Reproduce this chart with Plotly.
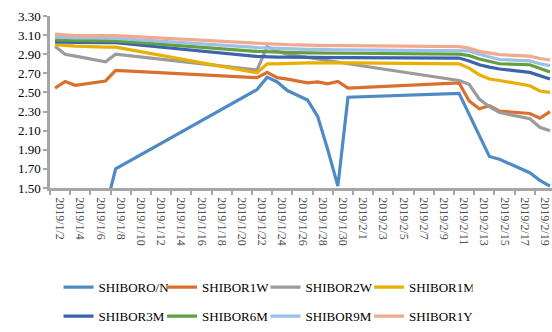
import plotly.graph_objects as go

# Trading-day offsets (days from the first date shown on the axis)
day_index = [0, 1, 2, 5, 6, 20, 21, 22, 23, 25, 26, 27, 28, 29,
             40, 41, 42, 43, 44, 47, 48, 49]

series_names = ["SHIBORO/N", "SHIBOR1W", "SHIBOR2W", "SHIBOR1M",
                "SHIBOR3M", "SHIBOR6M", "SHIBOR9M", "SHIBOR1Y"]

shibor_on = [None, None, None, 1.28, 1.70, 2.53, 2.66, 2.61, 2.52, 2.42, 2.25,
             1.90, 1.52, 2.45, 2.49, 2.27, 2.05, 1.83, 1.80, 1.66, 1.58, 1.52]
shibor_1w = [2.545, 2.615, 2.575, 2.62, 2.73, 2.655, 2.71, 2.655, 2.64, 2.60, 2.61,
             2.59, 2.615, 2.545, 2.60, 2.41, 2.33, 2.36, 2.305, 2.28, 2.23, 2.30]
shibor_2w = [2.98, 2.90, 2.88, 2.82, 2.90, 2.735, 2.98, 2.93, 2.90, 2.865, 2.85,
             2.83, 2.815, 2.80, 2.625, 2.585, 2.43, 2.35, 2.29, 2.225, 2.135, 2.10]
shibor_1m = [3.00, 2.99, 2.985, 2.975, 2.975, 2.705, 2.80, 2.80, 2.805, 2.81, 2.81,
             2.81, 2.81, 2.81, 2.80, 2.755, 2.685, 2.64, 2.625, 2.57, 2.515, 2.50]
shibor_3m = [3.03, 3.025, 3.025, 3.02, 3.02, 2.877, 2.87, 2.87, 2.87, 2.865, 2.865,
             2.865, 2.865, 2.865, 2.86, 2.83, 2.79, 2.765, 2.745, 2.71, 2.675, 2.64]
shibor_6m = [3.05, 3.045, 3.045, 3.04, 3.04, 2.93, 2.925, 2.92, 2.92, 2.915, 2.915,
             2.91, 2.91, 2.91, 2.90, 2.885, 2.85, 2.825, 2.80, 2.79, 2.755, 2.715]
shibor_9m = [3.08, 3.075, 3.07, 3.07, 3.065, 2.97, 2.965, 2.96, 2.955, 2.95, 2.95,
             2.945, 2.945, 2.945, 2.94, 2.935, 2.90, 2.87, 2.845, 2.83, 2.80, 2.78]
shibor_1y = [3.11, 3.105, 3.095, 3.095, 3.095, 3.015, 3.01, 3.00, 3.00, 2.995, 2.99,
             2.99, 2.99, 2.99, 2.98, 2.965, 2.93, 2.91, 2.895, 2.88, 2.855, 2.84]

# One label per two-day period along the date axis
tick_labels = ["2019/1/2", "2019/1/4", "2019/1/6", "2019/1/8", "2019/1/10",
               "2019/1/12", "2019/1/14", "2019/1/16", "2019/1/18", "2019/1/20",
               "2019/1/22", "2019/1/24", "2019/1/26", "2019/1/28", "2019/1/30",
               "2019/2/1", "2019/2/3", "2019/2/5", "2019/2/7", "2019/2/9",
               "2019/2/11", "2019/2/13", "2019/2/15", "2019/2/17", "2019/2/19"]

series_values = [shibor_on, shibor_1w, shibor_2w, shibor_1m,
                 shibor_3m, shibor_6m, shibor_9m, shibor_1y]
colors = ["#4E8BC5", "#D9702E", "#9B9B9B", "#E8B000",
          "#3D62AE", "#62A03F", "#9DC0E8", "#F2AA8E"]

SERIF = "Liberation Serif, Times New Roman, serif"
AXIS_GRAY = "#A6A6A6"

fig = go.Figure()
for i, (name, vals, col) in enumerate(zip(series_names, series_values, colors)):
    fig.add_trace(go.Scatter(
        x=day_index, y=vals, name=name, mode="lines",
        line=dict(color=col, width=3.2),
        legend="legend" if i < 4 else "legend2",
    ))

tick_pos = [-0.5 + 2 * k for k in range(len(tick_labels))]

legend_common = dict(
    orientation="h", xanchor="left", yanchor="top",
    entrywidth=58.5, entrywidthmode="pixels",
    font=dict(family=SERIF, size=13, color="#000000"),
    bgcolor="rgba(0,0,0,0)", borderwidth=0,
)

fig.update_layout(
    width=552, height=332,
    margin=dict(l=50, r=0, t=16, b=132),
    paper_bgcolor="white", plot_bgcolor="white",
    showlegend=True,
    legend=dict(x=0.017, y=-0.489, **legend_common),
    legend2=dict(x=0.017, y=-0.658, **legend_common),
    xaxis=dict(
        range=[-0.5, 49.2], tickmode="array", tickvals=tick_pos, ticktext=tick_labels,
        ticks="outside", ticklen=4, tickwidth=2, tickcolor=AXIS_GRAY,
        showline=True, linecolor=AXIS_GRAY, linewidth=2.5,
        showgrid=False, zeroline=False, tickangle=90, ticklabelshift=10,
        tickfont=dict(family=SERIF, size=12, color="#505050"), automargin=False,
    ),
    yaxis=dict(
        range=[1.5, 3.3], tick0=1.5, dtick=0.2, tickformat=".2f",
        ticks="outside", ticklen=4, tickwidth=2, tickcolor=AXIS_GRAY,
        showline=True, linecolor=AXIS_GRAY, linewidth=2.5,
        showgrid=False, zeroline=False,
        tickfont=dict(family=SERIF, size=13, color="#000000"), automargin=False,
    ),
)

fig.write_html("out.html")
